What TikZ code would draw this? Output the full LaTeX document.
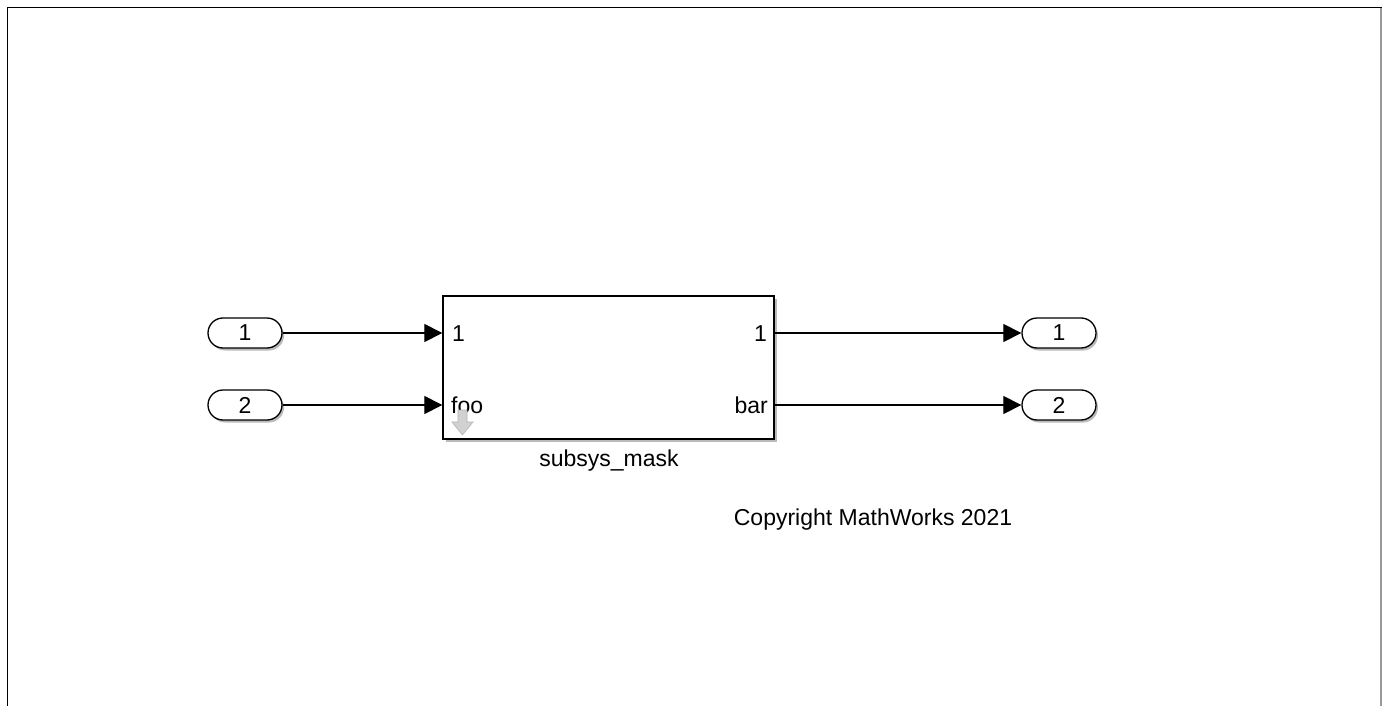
\documentclass[tikz,border=0pt]{standalone}
\usepackage{fontspec}
\setmainfont{Liberation Sans}
\usetikzlibrary{arrows.meta,shapes.misc,shadows}
\begin{document}
\begin{tikzpicture}[x=1pt,y=-1pt,
  port/.style={draw,line width=1.3pt,rounded rectangle,minimum width=74pt,minimum height=30pt,inner sep=0pt,fill=white,
     font=\fontsize{23}{25}\selectfont,
     drop shadow={shadow xshift=2pt,shadow yshift=-2.5pt,fill=black!45,opacity=0.6}},
  blk/.style={draw,line width=1.3pt,minimum width=331pt,minimum height=143pt,inner sep=0pt,fill=white,
     drop shadow={shadow xshift=2.5pt,shadow yshift=-3pt,fill=black!45,opacity=0.6}},
  lbl/.style={font=\fontsize{23}{25}\selectfont,inner sep=0pt},
  sig/.style={line width=1.1pt,-{Triangle[length=18pt,width=18pt]}}
]
\useasboundingbox (0,0) rectangle (1382,706);
% frame
\draw[line width=1.6pt] (7.5,706) -- (7.5,7.5) -- (1382,7.5);
\draw[line width=1.2pt,black!40] (1381,8.5) -- (1381,706);
% blocks
\node[port] (in1) at (245,333) {1};
\node[port] (in2) at (245,405) {2};
\node[port] (out1) at (1059,333) {1};
\node[port] (out2) at (1059,405) {2};
\node[blk] (sub) at (608.5,367.5) {};
% port labels
\node[lbl,anchor=west] (p1) at (452,334) {1};
\node[lbl,anchor=west] (pfoo) at (451,405) {foo};
\node[lbl,anchor=east] (q1) at (767,334) {1};
\node[lbl,anchor=east] (qbar) at (768,405) {bar};
\node[lbl,anchor=north] (name) at (609,450) {subsys\_mask};
\node[lbl] (copy) at (873,520) {Copyright MathWorks 2021};
% gray down arrow
\draw[fill=black!18,draw=black!30,line width=0.6pt]
  (458,410) -- (467,410) -- (467,422) -- (473,422) -- (462.5,435) -- (452,422) -- (458,422) -- cycle;
% signals
\draw[sig] (in1.east) -- (sub.west |- in1.east);
\draw[sig] (in2.east) -- (sub.west |- in2.east);
\draw[sig] (sub.east |- out1.west) -- (out1.west);
\draw[sig] (sub.east |- out2.west) -- (out2.west);
\end{tikzpicture}
\end{document}
